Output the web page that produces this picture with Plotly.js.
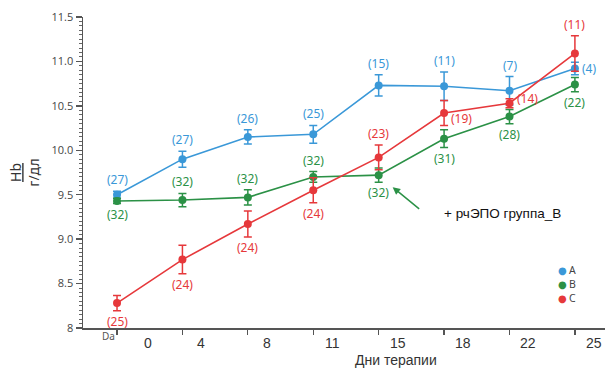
<!DOCTYPE html>
<html>
<head>
<meta charset="utf-8">
<script src="https://cdn.plot.ly/plotly-3.0.1.min.js"></script>
<style>
html,body{margin:0;padding:0;background:#fff;}
#chart{width:605px;height:379px;}
</style>
</head>
<body>
<div id="chart"></div>
<script>
// ---- data ----
var dayLabels = ["0", "4", "8", "11", "15", "18", "22", "25"];
var baselineLabel = "Da";
var seriesNames = ["A", "B", "C"];

var valuesA = [9.50, 9.90, 10.15, 10.18, 10.73, 10.72, 10.67, 10.92];
var errorsA = [0.04, 0.09, 0.08, 0.10, 0.12, 0.16, 0.16, 0.07];
var countsA = [27, 27, 26, 25, 15, 11, 7, 4];

var valuesB = [9.43, 9.44, 9.47, 9.70, 9.72, 10.13, 10.38, 10.74];
var errorsB = [0.03, 0.075, 0.085, 0.06, 0.08, 0.10, 0.08, 0.08];
var countsB = [32, 32, 32, 32, 32, 31, 28, 22];

var valuesC = [8.28, 8.77, 9.17, 9.55, 9.92, 10.42, 10.53, 11.09];
var errorsC = [0.085, 0.16, 0.146, 0.14, 0.14, 0.14, 0.05, 0.20];
var countsC = [25, 24, 24, 24, 23, 19, 14, 11];

var yTickVals = [8, 8.5, 9, 9.5, 10, 10.5, 11, 11.5];
var yTickText = ["8", "8.5", "9.0", "9.5", "10.0", "10.5", "11.0", "11.5"];

var annotationText = "+ рчЭПО группа_В";
var xTitle = "Дни терапии";

// ---- style ----
var colors = ["#3a98d8", "#2b9146", "#e6383b"];
// where each count label sits: 't' above, 'b' below, 'r' right
var sides = [
  ["t", "t", "t", "t", "t", "t", "t", "r"],
  ["b", "t", "t", "t", "b", "b", "b", "b"],
  ["b", "b", "b", "b", "t", "r", "r", "t"]
];
var rightShifts = [[0,0,0,0,0,0,0,0],[0,0,0,0,0,0,0,0],[0,0,0,0,0,-6,5,0]];

var allValues = [valuesA, valuesB, valuesC];
var allErrors = [errorsA, errorsB, errorsC];
var allCounts = [countsA, countsB, countsC];

var xs = dayLabels.map(function (d, i) { return i; });

var traces = allValues.map(function (vals, s) {
  return {
    type: "scatter",
    mode: "lines+markers",
    x: xs,
    y: vals,
    name: seriesNames[s],
    showlegend: false,
    line: { color: colors[s], width: 1.6 },
    marker: { color: colors[s], size: 8 },
    error_y: { type: "data", array: allErrors[s], visible: true, color: colors[s], thickness: 1.5, width: 4 },
    hoverinfo: "skip"
  };
});

var annotations = [];
var labelFont = "Noto Sans, Open Sans, sans-serif";
allValues.forEach(function (vals, s) {
  vals.forEach(function (v, i) {
    var side = sides[s][i];
    var a = {
      xref: "x", yref: "y", x: i, showarrow: false,
      text: "(" + allCounts[s][i] + ")",
      font: { family: labelFont, size: 12, color: colors[s] }
    };
    if (side === "t") {
      a.y = v + allErrors[s][i]; a.yanchor = "bottom"; a.yshift = 1;
    } else if (side === "b") {
      a.y = v - allErrors[s][i]; a.yanchor = "top"; a.yshift = 0;
    } else {
      a.y = v; a.xanchor = "left"; a.xshift = 5; a.yshift = rightShifts[s][i];
    }
    annotations.push(a);
  });
});

// x tick labels
annotations.push({
  xref: "x", yref: "paper", x: 0, y: 0, xshift: -9, yshift: -17,
  showarrow: false, text: baselineLabel,
  font: { family: "Noto Sans, sans-serif", size: 10, color: "#555" }
});
dayLabels.forEach(function (lab, i) {
  annotations.push({
    xref: "x", yref: "paper", x: i + (i === 0 ? 0.47 : 0.29), y: 0, yshift: -25,
    showarrow: false, text: lab,
    font: { family: "Liberation Sans, Arial, sans-serif", size: 14, color: "#333" }
  });
});
annotations.push({
  xref: "paper", yref: "paper", x: 0.6, y: 0, yshift: -42,
  showarrow: false, text: xTitle,
  font: { family: "Liberation Sans, Arial, sans-serif", size: 14, color: "#333" }
});

// arrow and note
annotations.push({
  xref: "x", yref: "y", x: 4, y: valuesB[4], xshift: 14, yshift: -12,
  showarrow: true, text: "", ax: 28, ay: 23,
  arrowcolor: colors[1], arrowwidth: 1.5, arrowhead: 2, arrowsize: 1
});
annotations.push({
  xref: "x", yref: "y", x: 5.9, y: 9.29, showarrow: false,
  text: annotationText,
  font: { family: "Liberation Sans, Arial, sans-serif", size: 13.5, color: "#111" }
});

// legend
seriesNames.forEach(function (nm, s) {
  var yy = 0.186 - s * 0.045;
  annotations.push({
    xref: "paper", yref: "paper", x: 0.918, y: yy, xanchor: "center", yanchor: "middle",
    showarrow: false, text: "●", borderpad: 0,
    font: { family: "DejaVu Sans, sans-serif", size: 10, color: colors[s] }
  });
  annotations.push({
    xref: "paper", yref: "paper", x: 0.929, y: yy, xanchor: "left", yanchor: "middle",
    showarrow: false, text: nm, borderpad: 0,
    font: { family: "Noto Sans, sans-serif", size: 10.5, color: "#444" }
  });
});

var layout = {
  width: 605, height: 379,
  margin: { l: 83, r: 0, t: 17, b: 51 },
  paper_bgcolor: "#fff", plot_bgcolor: "#fff",
  showlegend: false,
  xaxis: {
    range: [-0.52, 7.46],
    tickvals: xs, ticktext: xs.map(function () { return ""; }),
    ticks: "outside", ticklen: 5, tickwidth: 1.3, tickcolor: "#555",
    showline: true, linecolor: "#555", linewidth: 1.5,
    showgrid: false, zeroline: false, fixedrange: true
  },
  yaxis: {
    range: [8, 11.5],
    tickvals: yTickVals, ticktext: yTickText,
    ticks: "outside", ticklen: 6, tickwidth: 1.3, tickcolor: "#555",
    minor: { dtick: 0.05, ticks: "outside", ticklen: 3, tickwidth: 1, tickcolor: "#666", showgrid: false },
    tickfont: { family: "Open Sans, Noto Sans, sans-serif", size: 11, color: "#444" },
    showline: true, linecolor: "#555", linewidth: 1.5,
    showgrid: false, zeroline: false, fixedrange: true,
    title: {
      text: "<span style='text-decoration:underline;text-decoration-color:#e46060'>Hb</span><br>г/дл",
      font: { family: "Noto Sans, sans-serif", size: 14, color: "#333" },
      standoff: 8
    }
  },
  annotations: annotations
};

Plotly.newPlot("chart", traces, layout, { displayModeBar: false, staticPlot: true });
</script>
</body>
</html>
